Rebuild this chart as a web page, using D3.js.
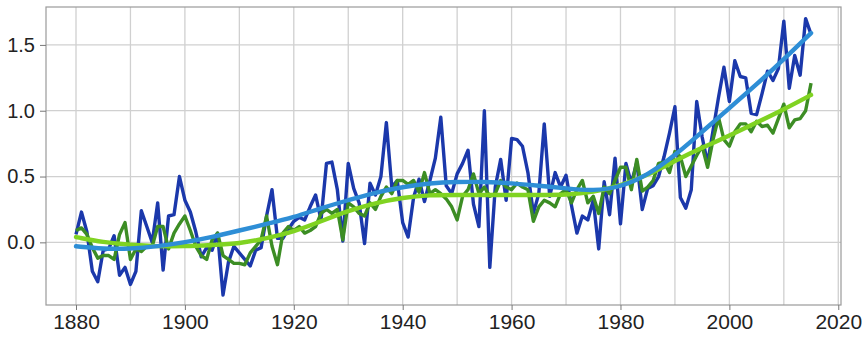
<!DOCTYPE html>
<html>
<head>
<meta charset="utf-8">
<script src="https://cdn.jsdelivr.net/npm/d3@7"></script>
<style>
  body { margin: 0; background: #fff; }
  .tick text { font-family: "Liberation Sans", Arial, sans-serif; fill: #222; }
</style>
</head>
<body>
<svg id="chart" width="866" height="337"></svg>
<script>
var startYear = 1880;
// yearly values, 1880 .. 2015
var blueRaw = [0.06,0.23,0.08,-0.22,-0.30,-0.06,-0.05,0.05,-0.25,-0.19,
  -0.32,-0.22,0.24,0.12,0.00,0.30,-0.21,0.20,0.21,0.50,
  0.32,0.23,0.08,-0.11,-0.04,-0.06,0.07,-0.40,-0.15,-0.03,
  -0.08,-0.13,-0.18,-0.06,-0.04,0.20,0.40,0.03,0.03,0.10,
  0.16,0.19,0.17,0.27,0.36,0.17,0.60,0.61,0.40,0.01,
  0.60,0.41,0.30,-0.01,0.45,0.36,0.50,0.91,0.42,0.47,
  0.15,0.04,0.34,0.48,0.31,0.47,0.64,0.95,0.43,0.37,
  0.52,0.60,0.70,0.29,0.12,1.00,-0.19,0.42,0.63,0.32,
  0.79,0.78,0.73,0.53,0.22,0.37,0.90,0.35,0.53,0.42,
  0.51,0.28,0.07,0.20,0.17,0.32,-0.05,0.46,0.21,0.64,
  0.14,0.60,0.45,0.61,0.25,0.41,0.43,0.50,0.65,0.83,
  1.03,0.34,0.26,0.40,1.07,0.80,0.60,0.85,1.10,1.33,
  1.07,1.38,1.26,1.25,0.98,0.97,1.13,1.30,1.23,1.32,
  1.68,1.17,1.42,1.27,1.70,1.58];
var greenRaw = [0.09,0.11,0.06,-0.04,-0.12,-0.10,-0.10,-0.13,0.06,0.15,
  -0.13,-0.05,-0.07,-0.03,-0.03,0.12,0.12,-0.05,0.07,0.14,
  0.20,0.09,-0.03,-0.10,-0.13,0.02,0.07,-0.10,-0.13,-0.16,
  -0.16,-0.17,-0.08,-0.03,0.02,0.20,-0.03,-0.17,0.07,0.12,
  0.09,0.12,0.07,0.09,0.12,0.22,0.25,0.22,0.25,0.02,
  0.30,0.27,0.22,0.20,0.30,0.25,0.35,0.42,0.37,0.47,
  0.47,0.44,0.47,0.38,0.53,0.37,0.40,0.37,0.33,0.27,
  0.17,0.35,0.40,0.52,0.37,0.42,0.35,0.37,0.47,0.42,
  0.40,0.45,0.42,0.40,0.16,0.27,0.32,0.30,0.27,0.37,
  0.40,0.30,0.40,0.47,0.30,0.35,0.22,0.42,0.37,0.47,
  0.57,0.57,0.40,0.63,0.39,0.42,0.47,0.60,0.61,0.53,
  0.69,0.65,0.50,0.58,0.66,0.73,0.57,0.78,0.95,0.78,
  0.73,0.84,0.90,0.90,0.84,0.92,0.88,0.89,0.83,0.94,
  1.05,0.87,0.93,0.94,1.00,1.21];

// smoothed trends, read every 5 years
var smoothYears = [1880,1885,1890,1895,1900,1905,1910,1915,1920,1925,1930,1935,1940,1945,
  1950,1955,1960,1965,1970,1975,1980,1985,1990,1995,2000,2005,2010,2015];
var blueSmooth = [-0.03,-0.05,-0.05,-0.03,0.00,0.04,0.09,0.14,0.19,0.26,0.32,0.38,0.42,0.45,
  0.46,0.46,0.45,0.43,0.41,0.39,0.42,0.51,0.66,0.84,1.02,1.20,1.39,1.59];
var greenSmooth = [0.04,0.00,-0.02,-0.03,-0.03,-0.02,-0.01,0.03,0.08,0.16,0.24,0.30,0.34,0.36,
  0.36,0.36,0.36,0.36,0.36,0.38,0.43,0.51,0.62,0.72,0.81,0.91,1.01,1.12];

var xTicks = [1880,1900,1920,1940,1960,1980,2000,2020];
var yTicks = [0.0,0.5,1.0,1.5];

var svg = d3.select("#chart"),
    plotL = 46, plotR = 841, plotT = 7, plotB = 305;

var x = d3.scaleLinear().domain([1874.49, 2020.5]).range([plotL, plotR]);
var y = d3.scaleLinear().domain([-0.476, 1.788]).range([plotB, plotT]);

// grid
var grid = svg.append("g");
grid.selectAll(".vg").data(d3.range(1880, 2021, 10)).enter().append("line")
  .attr("x1", function(d){ return x(d); }).attr("x2", function(d){ return x(d); })
  .attr("y1", plotT).attr("y2", plotB)
  .attr("stroke", "#d0d0d0").attr("stroke-width", 1.3);
grid.selectAll(".hg").data(yTicks).enter().append("line")
  .attr("x1", plotL).attr("x2", plotR)
  .attr("y1", function(d){ return y(d); }).attr("y2", function(d){ return y(d); })
  .attr("stroke", "#d0d0d0").attr("stroke-width", 1.3);

function series(vals) {
  return vals.map(function(v, i){ return [startYear + i, v]; });
}
function trend(vals) {
  return vals.map(function(v, i){ return [smoothYears[i], v]; });
}

var rawLine = d3.line().x(function(d){ return x(d[0]); }).y(function(d){ return y(d[1]); });
var smoothLine = d3.line().curve(d3.curveBasis)
  .x(function(d){ return x(d[0]); }).y(function(d){ return y(d[1]); });

svg.append("path").datum(series(blueRaw)).attr("d", rawLine)
  .attr("fill", "none").attr("stroke", "#1b38ab").attr("stroke-width", 3.4)
  .attr("stroke-linejoin", "round");
svg.append("path").datum(series(greenRaw)).attr("d", rawLine)
  .attr("fill", "none").attr("stroke", "#3c8d24").attr("stroke-width", 3.4)
  .attr("stroke-linejoin", "round");
svg.append("path").datum(trend(greenSmooth)).attr("d", smoothLine)
  .attr("fill", "none").attr("stroke", "#80d322").attr("stroke-width", 4.4)
  .attr("stroke-linecap", "round");
svg.append("path").datum(trend(blueSmooth)).attr("d", smoothLine)
  .attr("fill", "none").attr("stroke", "#2e8ed6").attr("stroke-width", 4.4)
  .attr("stroke-linecap", "round");

// frame
svg.append("rect").attr("x", plotL).attr("y", plotT)
  .attr("width", plotR - plotL).attr("height", plotB - plotT)
  .attr("fill", "none").attr("stroke", "#9a9a9a").attr("stroke-width", 1.2);

// axes
var xAxis = svg.append("g").attr("transform", "translate(0," + plotB + ")")
  .call(d3.axisBottom(x).tickValues(xTicks).tickFormat(d3.format("d")).tickSize(5).tickPadding(4));
var yAxis = svg.append("g").attr("transform", "translate(" + plotL + ",0)")
  .call(d3.axisLeft(y).tickValues(yTicks).tickFormat(d3.format(".1f")).tickSize(6).tickPadding(5));
svg.selectAll(".domain").remove();
svg.selectAll(".tick line").attr("stroke", "#777");
xAxis.selectAll("text").attr("font-size", "21px");
yAxis.selectAll("text").attr("font-size", "20px");
</script>
</body>
</html>
